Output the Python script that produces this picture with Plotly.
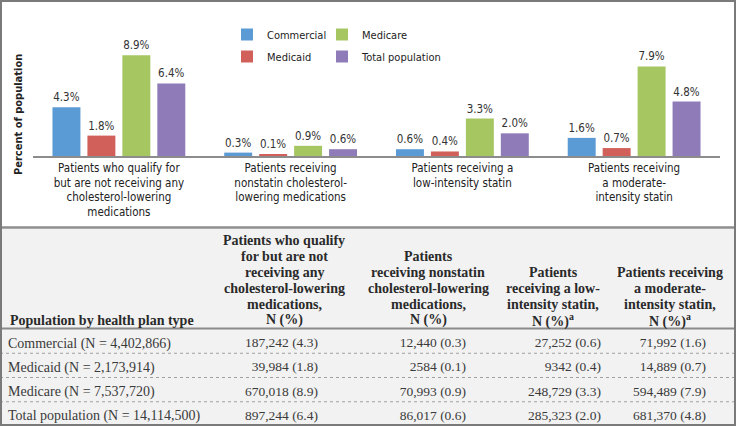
import plotly.graph_objects as go

# ---------------- data ----------------
categories = [
    "Patients who qualify for<br>but are not receiving any<br>cholesterol-lowering<br>medications",
    "Patients receiving<br>nonstatin cholesterol-<br>lowering medications",
    "Patients receiving a<br>low-intensity statin",
    "Patients receiving<br>a moderate-<br>intensity statin",
]
series_names = ["Commercial", "Medicaid", "Medicare", "Total population"]
pct_commercial = [4.3, 0.3, 0.6, 1.6]
pct_medicaid = [1.8, 0.1, 0.4, 0.7]
pct_medicare = [8.9, 0.9, 3.3, 7.9]
pct_total = [6.4, 0.6, 2.0, 4.8]

n_commercial = [187242, 12440, 27252, 71992]
n_medicaid = [39984, 2584, 9342, 14889]
n_medicare = [670018, 70993, 248729, 594489]
n_total = [897244, 86017, 285323, 681370]
pop_sizes = [4402866, 2173914, 7537720, 14114500]

table_headers = [
    "Population by health plan type",
    "Patients who qualify<br>for but are not<br>receiving any<br>cholesterol-lowering<br>medications,<br>N (%)",
    "Patients<br>receiving nonstatin<br>cholesterol-lowering<br>medications,<br>N (%)",
    "Patients<br>receiving a low-<br>intensity statin,<br>N (%)<sup>a</sup>",
    "Patients receiving<br>a moderate-<br>intensity statin,<br>N (%)<sup>a</sup>",
]

colors = ["#5B9BD5", "#D2605A", "#A6C662", "#8E7BB8"]

# ---------------- figure ----------------
W, H = 736, 426
SANS = "DejaVu Sans Condensed, Liberation Sans, sans-serif"
SERIF = "Liberation Serif, Times New Roman, serif"
TABLE_BG = "#F2F2F2"

fig = go.Figure()
pcts = [pct_commercial, pct_medicaid, pct_medicare, pct_total]
for i, (name, vals) in enumerate(zip(series_names, pcts)):
    fig.add_trace(go.Bar(
        x=categories, y=vals, name=name,
        marker=dict(color=colors[i], line=dict(width=0)),
        texttemplate="%{y:.1f}%", textposition="outside",
        textfont=dict(family=SANS, size=11.5, color="#333333"),
        constraintext="none", cliponaxis=False,
        legend="legend" if i in (0, 1) else "legend2",
        legendgroup=name,
    ))

# ---------------- table ----------------
def fmt(n):
    return f"{n:,}" if n >= 10000 else str(n)

row_labels = [f"{nm} (N = {fmt(p)})" for nm, p in zip(series_names, pop_sizes)]
counts = [n_commercial, n_medicaid, n_medicare, n_total]
cols = [row_labels]
for j in range(4):
    cols.append([f"{fmt(counts[r][j])} ({pcts[r][j]:.1f})" for r in range(4)])

# column edges in px (layout); table stops at TABLE_RIGHT, strip beyond is filled by a shape
col_edges = [0, 224, 326, 474, 609, 714]
TABLE_RIGHT = col_edges[-1]
col_widths = [b - a for a, b in zip(col_edges[:-1], col_edges[1:])]
header_centers = [None, 284, 428, 553, 670]

TABLE_TOP = 229
HEADER_H = 100
ROW_H = (H - TABLE_TOP - HEADER_H) / 4

fig.add_trace(go.Table(
    domain=dict(x=[0, TABLE_RIGHT / W], y=[0, 1 - TABLE_TOP / H]),
    columnwidth=col_widths,
    header=dict(
        values=[""] * len(col_widths),
        fill=dict(color=TABLE_BG),
        line=dict(color="rgba(0,0,0,0)", width=0),
        height=HEADER_H,
    ),
    cells=dict(
        values=cols,
        align=["left", "right", "right", "right", "right"],
        font=dict(family=SERIF, size=[14, 13.5, 13.5, 13.5, 13.5], color="#3A3A3A"),
        fill=dict(color=TABLE_BG),
        line=dict(color="rgba(0,0,0,0)", width=0),
        height=ROW_H,
    ),
))

# header text: one annotation per line, bottom-aligned
annotations = []
LAST_LINE_Y = 320
LINE_STEP = 15.8
for j, htxt in enumerate(table_headers):
    lines = htxt.split("<br>")
    n = len(lines)
    for k, ln in enumerate(lines):
        yc = LAST_LINE_Y - (n - 1 - k) * LINE_STEP
        if j == 0:
            xa, xanchor = 8 / W, "left"
        else:
            xa, xanchor = header_centers[j] / W, "center"
        annotations.append(dict(
            text=f"<b>{ln}</b>", x=xa, y=1 - yc / H, xref="paper", yref="paper",
            xanchor=xanchor, yanchor="middle", showarrow=False,
            font=dict(family=SERIF, size=14, color="#2A2A2A"),
        ))

annotations.append(dict(
    text="<b>Percent of population</b>", textangle=-90,
    x=18 / W, y=1 - 115 / H, xref="paper", yref="paper",
    xanchor="center", yanchor="middle", showarrow=False,
    font=dict(family=SANS, size=11, color="#222222"),
))

# ---------------- layout ----------------
y_base = 156
y_top = 20
fig.update_layout(
    width=W, height=H,
    margin=dict(l=0, r=0, t=0, b=0),
    paper_bgcolor="white", plot_bgcolor="white",
    barmode="group", bargap=0.186, bargroupgap=0.2,
    showlegend=True,
    xaxis=dict(
        domain=[33 / W, 720 / W], type="category",
        showline=True, linecolor="#8C8C8C", linewidth=1.5,
        ticks="", showgrid=False,
        tickfont=dict(family=SANS, size=11.5, color="#222222"),
    ),
    yaxis=dict(
        domain=[1 - y_base / H, 1 - y_top / H], range=[0, 12],
        showgrid=False, zeroline=False, showticklabels=False, showline=False,
    ),
    legend=dict(
        x=227 / W, y=1 - 20 / H, xanchor="left", yanchor="top",
        orientation="v", font=dict(family=SANS, size=11, color="#222222"),
        bgcolor="rgba(0,0,0,0)", itemwidth=30, traceorder="grouped", tracegroupgap=3,
    ),
    legend2=dict(
        x=322 / W, y=1 - 20 / H, xanchor="left", yanchor="top",
        orientation="v", font=dict(family=SANS, size=11, color="#222222"),
        bgcolor="rgba(0,0,0,0)", itemwidth=30, traceorder="grouped", tracegroupgap=3,
    ),
    annotations=annotations,
)

# frame and table rules
shapes = [
    dict(type="rect", xref="paper", yref="paper", x0=TABLE_RIGHT / W - 0.001, x1=1,
         y0=0, y1=1 - TABLE_TOP / H, line=dict(width=0), fillcolor=TABLE_BG, layer="above"),
    dict(type="line", xref="paper", yref="paper", x0=0, x1=1,
         y0=1 - 227.5 / H, y1=1 - 227.5 / H, line=dict(color="#8E8E8E", width=2.5)),
    dict(type="line", xref="paper", yref="paper", x0=0, x1=1,
         y0=1 - 328.5 / H, y1=1 - 328.5 / H, line=dict(color="#8A8A8A", width=2)),
]
for r in (1, 2, 3):
    yy = TABLE_TOP + HEADER_H + r * ROW_H
    shapes.append(dict(type="line", xref="paper", yref="paper", x0=0, x1=1,
                       y0=1 - yy / H, y1=1 - yy / H,
                       line=dict(color="#A0A0A0", width=1, dash="dot")))
shapes.append(dict(type="rect", xref="paper", yref="paper", x0=1 / W, x1=1 - 1 / W,
                   y0=1 / H, y1=1 - 1 / H, line=dict(color="#7A7A7A", width=2)))
fig.update_layout(shapes=shapes)

fig.write_html(
    "out.html",
    config={"displayModeBar": False},
    post_script="document.body.style.margin='0px';document.body.style.overflow='hidden';",
)
